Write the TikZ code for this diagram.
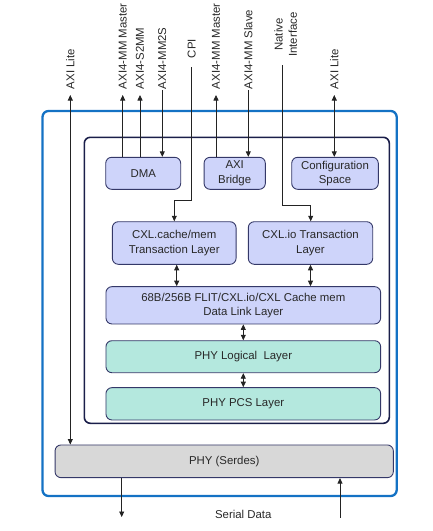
\documentclass[tikz,border=0pt]{standalone}
\usepackage{fontspec}
\setmainfont{Liberation Sans}
\usetikzlibrary{arrows.meta}
\definecolor{outerblue}{RGB}{20,114,196}
\definecolor{innernavy}{RGB}{26,30,74}
\definecolor{boxline}{RGB}{52,56,104}
\definecolor{lavfill}{RGB}{206,212,250}
\definecolor{tealfill}{RGB}{180,232,222}
\definecolor{serdesfill}{RGB}{216,216,216}
\definecolor{txtcol}{RGB}{40,40,40}
\definecolor{wirecol}{RGB}{35,35,35}
\begin{document}
\begin{tikzpicture}[x=1pt,y=-1pt,
  font=\fontsize{11.4}{14.3}\selectfont, text=txtcol,
  blk/.style={draw=boxline, line width=0.9pt, rounded corners=6pt, inner sep=0pt, align=center},
  lavbox/.style={blk, fill=lavfill},
  tealbox/.style={blk, fill=tealfill, minimum width=274.7pt, minimum height=32pt},
  lbl/.style={rotate=90, anchor=west, inner ysep=0pt, outer sep=0pt},
  conn/.style={draw=wirecol, line width=0.8pt, >={Triangle[length=5.5pt,width=5pt]}}
]
\useasboundingbox (0,0) rectangle (433,531);

% frames
\draw[outerblue, line width=2.3pt, rounded corners=6pt] (42.5,111) rectangle (396.7,496);
\draw[innernavy, line width=1.6pt, rounded corners=6pt] (84.3,137.3) rectangle (389.3,423.3);

% boxes
\node[lavbox, minimum width=75pt, minimum height=32pt] (dma) at (143.2,173.3) {DMA};
\node[lavbox, minimum width=61.3pt, minimum height=32pt] (axib) at (234.7,173.3) {AXI\\Bridge};
\node[lavbox, minimum width=86.6pt, minimum height=32pt] (cfg) at (335,173.3) {Configuration\\Space};
\node[lavbox, minimum width=123.7pt, minimum height=42.6pt] (cxlc) at (174.2,243) {CXL.cache/mem\\Transaction Layer};
\node[lavbox, minimum width=124.4pt, minimum height=42.6pt] (cxlio) at (310.5,243) {CXL.io Transaction\\Layer};
\node[lavbox, minimum width=274.7pt, minimum height=37.3pt] (dll) at (243.3,305.3) {68B/256B FLIT/CXL.io/CXL Cache mem\\Data Link Layer};
\node[tealbox] (phyl) at (243.3,356.7) {PHY Logical~ Layer};
\node[tealbox, minimum height=32.3pt] (pcs) at (243.3,403.8) {PHY PCS Layer};
\node[blk, fill=serdesfill, minimum width=338.3pt, minimum height=32.7pt] (serdes) at (224.2,461.3) {PHY (Serdes)};

% top labels
\node[lbl, inner xsep=6pt] (lALl) at (70.3,95) {AXI Lite};
\node[lbl, inner xsep=6pt] (lMMd) at (122.7,95) {AXI4-MM Master};
\node[lbl, inner xsep=6pt] (lS2MM) at (140,95) {AXI4-S2MM};
\node[lbl, inner xsep=1pt] (lMM2S) at (162.3,90) {AXI4-MM2S};
\node[lbl, inner xsep=9pt] (lCPI) at (191.7,67) {CPI};
\node[lbl, inner xsep=6pt] (lMMb) at (216,95) {AXI4-MM Master};
\node[lbl, inner xsep=1pt] (lSlv) at (248.3,90) {AXI4-MM Slave};
\node[rotate=90, align=center, inner sep=0pt] (lNat) at (285.6,34.5) {Native\\Interface};
\node[lbl, inner xsep=6pt] (lALr) at (334.3,95) {AXI Lite};
\node[inner sep=0pt] (lSer) at (243.3,514) {Serial Data};

% helper coordinates
\coordinate (cpiTurn) at (174.3,200);
\coordinate (natTop) at (282.7,65);
\coordinate (natTurn) at (310.7,205.7);
\coordinate (cxlcArr) at (176.7,264.3);
\coordinate (sdL) at (121.7,517);
\coordinate (sdR) at (340,517.7);

% connectors
\draw[conn,<->] (lALl.west) -- (lALl.west |- serdes.north);
\draw[conn,->] (lMMd.west |- dma.north) -- (lMMd.west);
\draw[conn,->] (lS2MM.west |- dma.north) -- (lS2MM.west);
\draw[conn,->] (lMM2S.west) -- (lMM2S.west |- dma.north);
\draw[conn,->] (lCPI.west) |- (cpiTurn) -- (cpiTurn |- cxlc.north);
\draw[conn,->] (lMMb.west |- axib.north) -- (lMMb.west);
\draw[conn,->] (lSlv.west) -- (lSlv.west |- axib.north);
\draw[conn,->] (natTop) |- (natTurn) -- (natTurn |- cxlio.north);
\draw[conn,<->] (lALr.west) -- (lALr.west |- cfg.north);
\draw[conn,<->] (cxlcArr |- cxlc.south) -- (cxlcArr |- dll.north);
\draw[conn,<->] (cxlio.south) -- (cxlio.south |- dll.north);
\draw[conn,<->] (dll.south) -- (phyl.north);
\draw[conn,<->] (phyl.south) -- (pcs.north);
\draw[conn,->] (sdL |- serdes.south) -- (sdL);
\draw[conn,->] (sdR) -- (sdR |- serdes.south);
\end{tikzpicture}
\end{document}
